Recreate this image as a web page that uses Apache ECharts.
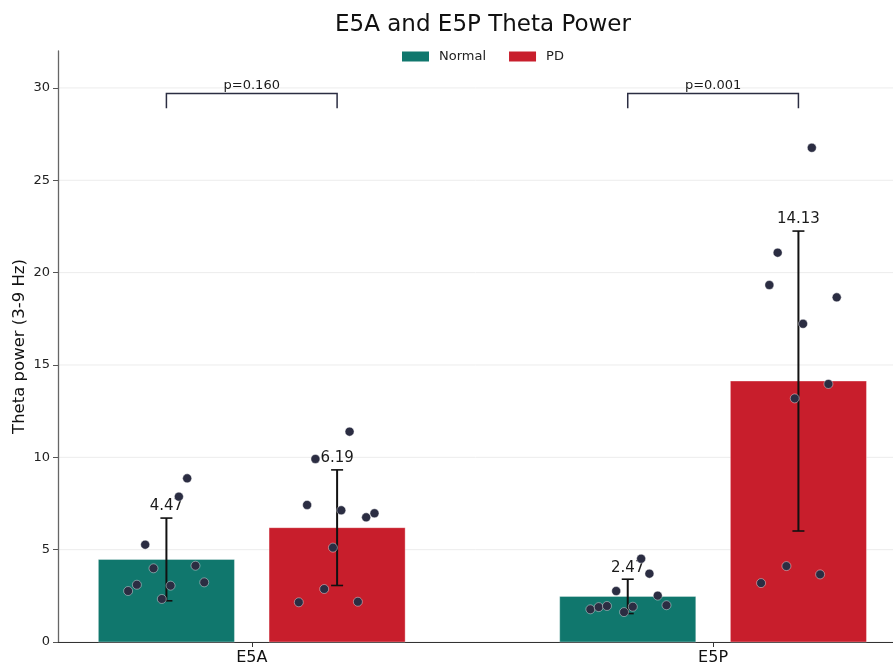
<!DOCTYPE html>
<html>
<head>
<meta charset="utf-8">
<script src="https://cdn.jsdelivr.net/npm/echarts@6/dist/echarts.min.js"></script>
<style>html,body{margin:0;padding:0;background:#fff}#c{width:893px;height:665px}</style>
</head>
<body>
<div id="c"></div>
<script>
const categories = ['E5A', 'E5P'];
const groups = ['Normal', 'PD'];
const normalMeans = [4.47, 2.47];
const pdMeans = [6.19, 14.13];
const normalSD = [2.24, 0.93];
const pdSD = [3.13, 8.12];
const pLabels = ['p=0.160', 'p=0.001'];
const yTicks = [0, 5, 10, 15, 20, 25, 30];

// individual subject values and horizontal jitter (category units)
const e5aNormalValues = [8.86, 7.87, 5.27, 3.99, 4.13, 3.10, 2.76, 3.05, 3.23, 2.33];
const e5aNormalJitter = [0.045, 0.027, -0.046, -0.028, 0.063, -0.064, -0.083, 0.009, 0.082, -0.010];
const e5aPdValues = [11.39, 9.91, 7.42, 7.13, 6.75, 6.97, 5.11, 2.87, 2.15, 2.18];
const e5aPdJitter = [0.027, -0.047, -0.065, 0.009, 0.063, 0.081, -0.009, -0.028, -0.083, 0.045];
const e5pNormalValues = [4.51, 3.70, 2.76, 2.51, 1.77, 1.89, 1.95, 1.62, 1.91, 1.99];
const e5pNormalJitter = [0.029, 0.047, -0.025, 0.065, -0.081, -0.063, -0.045, -0.008, 0.011, 0.084];
const e5pPdValues = [26.76, 21.08, 19.33, 18.66, 17.23, 13.97, 13.19, 4.11, 3.66, 3.19];
const e5pPdJitter = [0.029, -0.045, -0.063, 0.083, 0.010, 0.065, -0.008, -0.026, 0.047, -0.081];

const COLORS = { Normal: '#10776d', PD: '#c81e2c' };
const OFFSET = 0.185, BAR_W = 0.295;
const BRACKET_TOP = 29.7, BRACKET_LEG = 28.9;
const FONT = 'DejaVu Sans';

const chart = echarts.init(document.getElementById('c'), null, { renderer: 'canvas' });

function barSeries(name, means, sign) {
  return {
    name: name, type: 'custom', z: 2,
    itemStyle: { color: COLORS[name] },
    data: means.map((m, i) => [i + sign * OFFSET, m]),
    renderItem: function (params, api) {
      const x = api.value(0), y = api.value(1);
      const p1 = api.coord([x - BAR_W / 2, y]);
      const p2 = api.coord([x + BAR_W / 2, 0]);
      return {
        type: 'rect',
        shape: { x: p1[0], y: p1[1], width: p2[0] - p1[0], height: p2[1] - p1[1] },
        style: { fill: COLORS[name], stroke: 'rgba(255,255,255,0.35)', lineWidth: 1 }
      };
    }
  };
}

function errSeries(means, sds, sign) {
  return {
    type: 'custom', z: 4, silent: true,
    data: means.map((m, i) => [i + sign * OFFSET, m, sds[i]]),
    renderItem: function (params, api) {
      const x = api.value(0), m = api.value(1), s = api.value(2);
      const top = api.coord([x, m + s]);
      const bot = api.coord([x, m - s]);
      const cap = 6;
      const st = { stroke: '#111', lineWidth: 2 };
      return {
        type: 'group',
        children: [
          { type: 'line', shape: { x1: top[0], y1: top[1], x2: bot[0], y2: bot[1] }, style: st },
          { type: 'line', shape: { x1: top[0] - cap, y1: top[1], x2: top[0] + cap, y2: top[1] }, style: { stroke: '#111', lineWidth: 1.6 } },
          { type: 'line', shape: { x1: bot[0] - cap, y1: bot[1], x2: bot[0] + cap, y2: bot[1] }, style: { stroke: '#111', lineWidth: 1.6 } },
          { type: 'text', x: top[0], y: top[1] - 4,
            style: { text: m.toFixed(2), fill: '#1a1a1a', font: '15px ' + FONT, align: 'center', verticalAlign: 'bottom' } }
        ]
      };
    }
  };
}

function pointSeries(values, jitter, center) {
  return {
    type: 'scatter', z: 5, silent: true,
    symbolSize: 9,
    itemStyle: { color: '#2b2d42', borderColor: 'rgba(255,255,255,0.7)', borderWidth: 0.6, opacity: 1 },
    data: values.map((v, i) => [center + jitter[i], v])
  };
}

const gridSeries = {
  type: 'custom', z: 0, silent: true,
  data: yTicks.map(t => [t]),
  encode: { y: 0 },
  renderItem: function (params, api) {
    const t = api.value(0);
    const a = api.coord([-0.42, t]);
    const b = api.coord([1.39, t]);
    return { type: 'line', shape: { x1: a[0], y1: a[1], x2: b[0], y2: b[1] }, style: { stroke: '#ececec', lineWidth: 1 } };
  }
};

const bracketSeries = {
  type: 'custom', z: 6, silent: true,
  data: pLabels.map((p, i) => [i, BRACKET_TOP, BRACKET_LEG]),
  renderItem: function (params, api) {
    const i = api.value(0);
    const a = api.coord([i - OFFSET, api.value(1)]);
    const b = api.coord([i + OFFSET, api.value(1)]);
    const aL = api.coord([i - OFFSET, api.value(2)]);
    const bL = api.coord([i + OFFSET, api.value(2)]);
    return {
      type: 'group',
      children: [
        { type: 'polyline', shape: { points: [[aL[0], aL[1]], [a[0], a[1]], [b[0], b[1]], [bL[0], bL[1]]] },
          style: { stroke: '#2b2d42', lineWidth: 1.5, fill: null } },
        { type: 'text', x: (a[0] + b[0]) / 2, y: a[1] - 1,
          style: { text: pLabels[params.dataIndex], fill: '#1a1a1a', font: '13px ' + FONT, align: 'center', verticalAlign: 'bottom' } }
      ]
    };
  }
};

chart.setOption({
  animation: false,
  textStyle: { fontFamily: FONT },
  title: {
    text: 'E5A and E5P Theta Power',
    left: 478, top: 9, textAlign: 'center',
    textStyle: { fontFamily: FONT, fontSize: 23, fontWeight: 'normal', color: '#111' }
  },
  legend: {
    data: groups.map(g => ({ name: g, itemStyle: { color: COLORS[g] } })),
    left: 402, top: 50, padding: 0,
    itemWidth: 27, itemHeight: 10, itemGap: 23,
    icon: 'rect',
    textStyle: { fontFamily: FONT, fontSize: 13, color: '#222', padding: [0, 0, 0, 5] }
  },
  grid: { left: 58, right: 0, top: 51, bottom: 23, containLabel: false, outerBoundsMode: 'none' },
  xAxis: {
    type: 'value', min: -0.42, max: 1.39,
    splitLine: { show: false },
    axisLine: { show: true, onZero: false, lineStyle: { color: '#333', width: 1.2 } },
    axisTick: { show: true, customValues: [0, 1], length: 5, lineStyle: { color: '#333' } },
    axisLabel: { customValues: [0, 1], formatter: v => categories[Math.round(v)], fontSize: 16, color: '#111', margin: 8, fontFamily: FONT }
  },
  yAxis: {
    type: 'value', min: 0, max: 32,
    name: 'Theta power (3-9 Hz)', nameLocation: 'middle', nameGap: 30, nameMoveOverlap: false,
    nameTextStyle: { fontSize: 16.5, color: '#111', fontFamily: FONT },
    splitLine: { show: false },
    axisLine: { show: true, onZero: false, lineStyle: { color: '#666', width: 1.3 } },
    axisTick: { show: true, customValues: yTicks, length: 5, lineStyle: { color: '#555' } },
    axisLabel: { customValues: yTicks, fontSize: 13, color: '#222', margin: 8, fontFamily: FONT }
  },
  series: [
    gridSeries,
    barSeries('Normal', normalMeans, -1),
    barSeries('PD', pdMeans, 1),
    errSeries(normalMeans, normalSD, -1),
    errSeries(pdMeans, pdSD, 1),
    pointSeries(e5aNormalValues, e5aNormalJitter, 0 - OFFSET),
    pointSeries(e5aPdValues, e5aPdJitter, 0 + OFFSET),
    pointSeries(e5pNormalValues, e5pNormalJitter, 1 - OFFSET),
    pointSeries(e5pPdValues, e5pPdJitter, 1 + OFFSET),
    bracketSeries
  ]
});
</script>
</body>
</html>
